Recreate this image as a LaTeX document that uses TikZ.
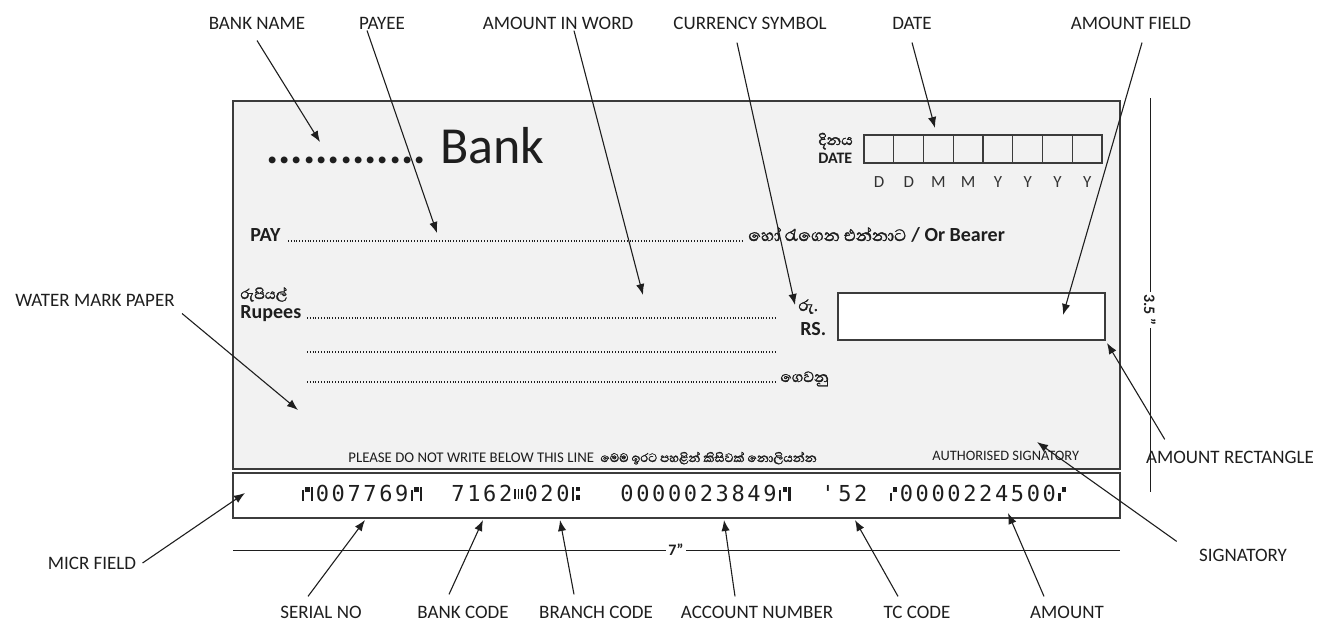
\documentclass[tikz,border=0pt]{standalone}
\usepackage{fontspec}
\setmainfont{Carlito}
\newfontfamily\sinhfont[Script=Sinhala]{Abhaya Libre}
\newfontfamily\sinhbfont[Script=Sinhala, FakeBold=1.6]{Abhaya Libre}
\newfontfamily\micrfont[LetterSpace=12]{DejaVu Sans Mono}
\usetikzlibrary{arrows.meta}
\definecolor{chequegray}{HTML}{F2F2F2}
\definecolor{inkc}{HTML}{1E1E1E}
\definecolor{framec}{HTML}{3C3C3C}
% MICR E-13B special symbols drawn as bars
\newcommand{\micronus}{\kern1.2pt\rule[0pt]{1.1pt}{5.5pt}\kern0.7pt\rule[4.6pt]{2.2pt}{2.6pt}\kern0.7pt\rule[0pt]{1.1pt}{7.2pt}\kern1.2pt}
\newcommand{\micrtransit}{\kern1.2pt\rule[0pt]{1.1pt}{7.2pt}\kern0.8pt\rlap{\rule[5pt]{2.2pt}{2.2pt}}\rule[0.6pt]{2.2pt}{2.2pt}\kern1.2pt}
\newcommand{\micrdash}{\kern1pt\rule[1pt]{0.9pt}{5pt}\kern0.7pt\rule[1pt]{0.9pt}{5pt}\kern0.7pt\rule[1pt]{0.9pt}{5pt}\kern1pt}
\newcommand{\micramount}{\kern1.2pt\rule[0pt]{1.1pt}{4pt}\kern0.7pt\rule[4.4pt]{2pt}{2.8pt}\kern1.2pt}
\begin{document}
\begin{tikzpicture}[x=0.5pt,y=-0.5pt,
  lbl/.style={font=\fontsize{9.5}{11}\selectfont, text=inkc, inner sep=0pt},
  ptr/.style={draw=inkc, line width=0.55pt, -{Latex[length=5.5pt,width=4.2pt]}},
  ln/.style={draw=inkc, line width=0.5pt},
  frame/.style={draw=framec, line width=0.6pt},
  bt/.style={font=\fontsize{10}{11}\selectfont\bfseries, inner sep=0pt, anchor=base west, text=inkc},
  st/.style={font=\fontsize{9.5}{10}\selectfont\sinhbfont, inner sep=0pt, anchor=base west, text=inkc},
  dotline/.style={draw=inkc, line width=0.55pt, dash pattern=on 0.45pt off 0.95pt},
  mc/.style={font=\fontsize{11}{12}\micrfont, inner sep=0pt, anchor=base west, text=inkc},
  dm/.style={font=\fontsize{8.5}{9}\selectfont, inner sep=0pt, text=black!80},
  dim/.style={font=\fontsize{8}{9}\selectfont\bfseries, fill=white, inner sep=1pt, text=inkc}
]
\useasboundingbox (0,0) rectangle (1333,623);

% cheque body and MICR strip
\draw[frame, fill=chequegray] (233,101) rectangle (1120,469);
\draw[frame, fill=white] (233,473) rectangle (1120,518);

% bank name
\node[font=\fontsize{23}{23}\selectfont\bfseries, inner sep=0pt, anchor=base west, text=inkc] (dots) at (266,163) {.............};
\node[font=\fontsize{26}{26}\selectfont, inner sep=0pt, anchor=base west, text=inkc] (bank) at (440,163) {Bank};

% date
\node[font=\fontsize{9.5}{10}\selectfont\sinhbfont, inner sep=0pt, anchor=base west, text=inkc] (dinaya) at (818,145) {දිනය};
\node[font=\fontsize{8}{9}\selectfont\bfseries, inner sep=0pt, anchor=base west, text=inkc] (datetxt) at (818,163) {DATE};
\foreach \i/\l in {0/D,1/D,2/M,3/M,4/Y,5/Y,6/Y,7/Y}{
  \draw[frame] (864+\i*29.75,135) rectangle ++(29.75,28);
  \node[dm] (dl\i) at (879+\i*29.75,182) {\l};
}

% pay line
\node[bt] (pay) at (250,241) {PAY};
\draw[dotline] (288,241) -- (744,241);
\node[st, font=\fontsize{10.5}{11}\selectfont\sinhbfont] (bearer) at (748,241) {හෝ රැගෙන එන්නාට};
\node[bt] (orbearer) at (911,241) {/ Or Bearer};

% rupees lines
\node[st, font=\fontsize{9}{10}\selectfont\sinhbfont] (rupiyal) at (240,299) {රුපියල්};
\node[bt] (rupees) at (240,318) {Rupees};
\draw[dotline] (307,318) -- (775,318);
\draw[dotline] (307,352) -- (775,352);
\draw[dotline] (307,382) -- (775,382);
\node[st] (gewanu) at (780,382) {ගෙවනු};
\node[st, font=\fontsize{10}{11}\selectfont\sinhbfont] (ru) at (798,311) {රු.};
\node[bt] (rs) at (800,335) {RS.};
\draw[frame, fill=white] (838,293) rectangle (1105,340);

% bottom line of cheque
\node[font=\fontsize{7.4}{8}\selectfont, inner sep=0pt, anchor=base west, text=inkc] (please) at (348,462) {PLEASE DO NOT WRITE BELOW THIS LINE};
\node[font=\fontsize{7.8}{8}\selectfont\sinhbfont, inner sep=0pt, anchor=base west, text=inkc] (pleasesi) at (600,462) {මෙම ඉරට පහළින් කිසිවක් නොලියන්න};
\node[font=\fontsize{7.2}{8}\selectfont, inner sep=0pt, anchor=base west, text=inkc] (auth) at (932,460) {AUTHORISED SIGNATORY};

% MICR line
\node[mc] (m1) at (299,501) {\micronus007769\micronus};
\node[mc] (m2) at (451,501) {7162\micrdash020\micrtransit};
\node[mc] (m3) at (620,501) {0000023849\micronus};
\node[mc] (m4) at (821,501) {'\,52};
\node[mc] (m5) at (887,501) {\micramount0000224500\micramount};

% dimension lines
\draw[ln] (233,550) -- (1120,550);
\node[dim] (w7) at (676,550) {7"};
\draw[ln] (1150,98) -- (1150,492);
\node[dim, rotate=-90] (h35) at (1150,310) {3.5 "};

% arrow tip coordinates
\coordinate (tBank) at (320,142);
\coordinate (tPayee) at (437,233);
\coordinate (tAIW) at (643,295);
\coordinate (tCur) at (795,305);
\coordinate (tDate) at (935,128);
\coordinate (tAF) at (1063,315);
\coordinate (tWM) at (298,410);
\coordinate (tMICR) at (245,493);
\coordinate (tSerial) at (365,520);
\coordinate (tBankCode) at (483,520);
\coordinate (tBranch) at (560,520);
\coordinate (tAcct) at (724,520);
\coordinate (tTC) at (855,520);
\coordinate (tAmt) at (1008,513);
\coordinate (tAR) at (1107,343);
\coordinate (tSig) at (1037,442);

% top labels
\node[lbl] (lBank) at (257,23) {BANK NAME};
\node[lbl] (lPayee) at (382,23) {PAYEE};
\node[lbl] (lAIW) at (558,23) {AMOUNT IN WORD};
\node[lbl] (lCur) at (750,23) {CURRENCY SYMBOL};
\node[lbl] (lDate) at (912,23) {DATE};
\node[lbl] (lAF) at (1131,23) {AMOUNT FIELD};

\draw[ptr] ([yshift=-5.5pt]lBank.south) -- (tBank);
\draw[ptr] ([xshift=-7.5pt,yshift=-0.5pt]lPayee.south) -- (tPayee);
\draw[ptr] ([xshift=8pt,yshift=-0.5pt]lAIW.south) -- (tAIW);
\draw[ptr] ([xshift=-6.5pt,yshift=-6.5pt]lCur.south) -- (tCur);
\draw[ptr] ([yshift=-6.5pt]lDate.south) -- (tDate);
\draw[ptr] ([xshift=5.5pt,yshift=-6.5pt]lAF.south) -- (tAF);

% side labels
\node[lbl] (lWM) at (95,300) {WATER MARK PAPER};
\draw[ptr] ([xshift=3.5pt,yshift=-3.5pt]lWM.south east) -- (tWM);
\node[lbl] (lMICR) at (92,563) {MICR FIELD};
\draw[ptr] ([xshift=3pt]lMICR.east) -- (tMICR);
\node[lbl] (lAR) at (1230,457) {AMOUNT RECTANGLE};
\draw[ptr] ([xshift=9.5pt,yshift=5.5pt]lAR.north west) -- (tAR);
\node[lbl] (lSig) at (1243,555) {SIGNATORY};
\draw[ptr] ([xshift=-11pt,yshift=3.5pt]lSig.north west) -- (tSig);

% bottom labels
\node[lbl] (lSerial) at (321,612) {SERIAL NO};
\node[lbl] (lBankCode) at (463,612) {BANK CODE};
\node[lbl] (lBranch) at (596,612) {BRANCH CODE};
\node[lbl] (lAcct) at (757,612) {ACCOUNT NUMBER};
\node[lbl] (lTC) at (917,612) {TC CODE};
\node[lbl] (lAmt) at (1067,612) {AMOUNT};
\draw[ptr] ([xshift=-6.5pt,yshift=4.5pt]lSerial.north) -- (tSerial);
\draw[ptr] ([xshift=-7pt,yshift=5.5pt]lBankCode.north) -- (tBankCode);
\draw[ptr] ([xshift=-11pt,yshift=5.5pt]lBranch.north) -- (tBranch);
\draw[ptr] ([xshift=-11pt,yshift=4.5pt]lAcct.north) -- (tAcct);
\draw[ptr] ([xshift=-9.5pt,yshift=4.5pt]lTC.north) -- (tTC);
\draw[ptr] ([xshift=-11.5pt,yshift=4.5pt]lAmt.north) -- (tAmt);
\end{tikzpicture}
\end{document}
